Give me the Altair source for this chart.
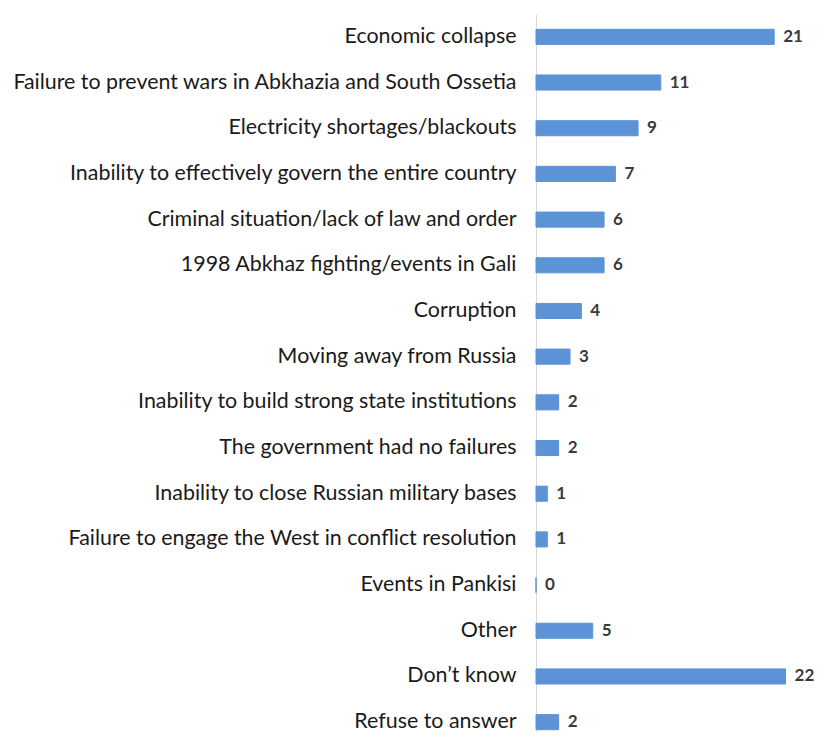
import altair as alt
import pandas as pd

categories = [
    "Economic collapse",
    "Failure to prevent wars in Abkhazia and South Ossetia",
    "Electricity shortages/blackouts",
    "Inability to effectively govern the entire country",
    "Criminal situation/lack of law and order",
    "1998 Abkhaz fighting/events in Gali",
    "Corruption",
    "Moving away from Russia",
    "Inability to build strong state institutions",
    "The government had no failures",
    "Inability to close Russian military bases",
    "Failure to engage the West in conflict resolution",
    "Events in Pankisi",
    "Other",
    "Don\u2019t know",
    "Refuse to answer",
]
values = [21, 11, 9, 7, 6, 6, 4, 3, 2, 2, 1, 1, 0, 5, 22, 2]

df = pd.DataFrame({"category": categories, "value": values})

y_enc = alt.Y(
    "category:N",
    sort=categories,
    scale=alt.Scale(paddingInner=0.67, paddingOuter=0.335),
    axis=alt.Axis(
        title=None,
        ticks=False,
        domainColor="#d9d9d9",
        domainWidth=1,
        labelFont="Lato",
        labelFontSize=21.4,
        labelColor="#1a1a1a",
        labelPadding=20,
        labelLimit=600,
    ),
)
x_enc = alt.X(
    "value:Q",
    scale=alt.Scale(domain=[0, 23.1], nice=False),
    axis=None,
)

bars = alt.Chart(df).mark_bar(
    color="#5B93D6", stroke="#5B93D6", strokeWidth=1
).encode(y=y_enc, x=x_enc)

texts = alt.Chart(df).mark_text(
    align="left", baseline="middle", dx=9,
    font="Lato", fontSize=17, fontWeight="bold", color="#3a3a3a",
).encode(y=alt.Y("category:N", sort=categories), x="value:Q", text="value:Q")

chart = (
    (bars + texts)
    .properties(
        width=262,
        height=731,
        background="white",
        autosize=alt.AutoSizeParams(type="none"),
        padding={"left": 528, "top": 6, "right": 18, "bottom": -13},
    )
    .configure_view(strokeWidth=0)
)

chart.save("out.html", embed_options={"renderer": "svg", "actions": False})
